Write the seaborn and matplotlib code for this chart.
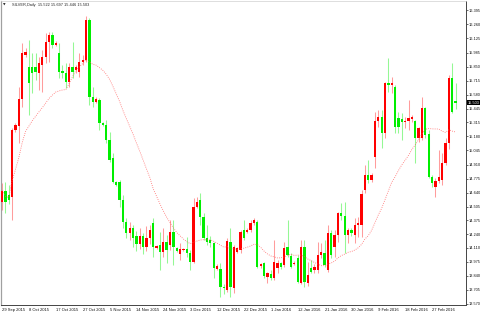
import numpy as np
import pandas as pd
import matplotlib
matplotlib.use('Agg')
import matplotlib.pyplot as plt
import matplotlib.transforms as mtransforms
import seaborn as sns

# ---------------- data ----------------
symbol_title = "SILVER,Daily  15.522 15.697 15.446 15.503"
last_price = 15.503

date_labels = ["29 Sep 2015", "8 Oct 2015", "17 Oct 2015", "27 Oct 2015", "5 Nov 2015",
               "14 Nov 2015", "24 Nov 2015", "3 Dec 2015", "12 Dec 2015", "22 Dec 2015",
               "1 Jan 2016", "12 Jan 2016", "21 Jan 2016", "30 Jan 2016", "9 Feb 2016",
               "18 Feb 2016", "27 Feb 2016"]

price_ticks = [16.395, 16.260, 16.125, 15.985, 15.850, 15.715, 15.580, 15.445, 15.315,
               15.180, 15.045, 14.910, 14.775, 14.640, 14.505, 14.375, 14.240, 14.110,
               13.975, 13.840, 13.705, 13.570]

opens = [14.55, 14.66, 14.62, 14.60, 15.24, 15.28, 15.54, 15.96, 15.847, 15.847,
         15.85, 15.79, 15.867, 15.943, 16.087, 16.155, 16.059, 15.982, 15.81, 15.79,
         15.703, 15.847, 15.82, 15.80, 15.895, 15.915, 16.30, 15.559, 15.51, 15.53,
         15.31, 15.29, 15.146, 14.973, 14.742, 14.742, 14.569, 14.36, 14.25, 14.30,
         14.22, 14.15, 14.22, 14.12, 14.20, 14.345, 14.11, 14.137, 14.072, 14.168,
         14.137, 14.265, 14.11, 14.05, 14.09, 14.10, 14.057, 13.976, 14.505, 14.569,
         14.409, 14.201, 14.18, 14.153, 13.909, 13.903, 13.736, 13.704, 14.168, 13.72,
         14.072, 14.089, 14.28, 14.265, 14.28, 14.345, 14.36, 13.93, 13.966, 13.83,
         13.858, 13.817, 13.913, 13.961, 13.944, 14.12, 14.03, 13.955, 14.009, 13.771,
         14.12, 13.771, 13.913, 13.897, 13.897, 14.04, 14.057, 13.897, 14.249, 14.12,
         14.233, 14.441, 14.418, 14.233, 14.28, 14.233, 14.329, 14.329, 14.665, 14.809,
         14.761, 14.985, 15.331, 15.37, 15.21, 15.696, 15.67, 15.658, 15.354, 15.347,
         15.316, 15.328, 15.347, 15.331, 15.162, 15.162, 15.45, 15.204, 14.793, 14.697,
         14.752, 14.761, 14.922, 15.12, 15.742, 15.522]
highs = [14.73, 14.74, 14.71, 15.26, 15.31, 15.655, 16.078, 16.03, 16.107, 15.98,
         15.98, 15.943, 16.01, 16.174, 16.184, 16.184, 16.097, 16.078, 15.87, 15.886,
         15.886, 16.087, 15.87, 15.98, 15.96, 16.337, 16.318, 15.655, 15.56, 15.55,
         15.32, 15.338, 15.22, 15.02, 14.75, 14.76, 14.617, 14.40, 14.36, 14.33,
         14.27, 14.30, 14.25, 14.32, 14.33, 14.393, 14.14, 14.265, 14.297, 14.23,
         14.377, 14.377, 14.12, 14.153, 14.11, 14.216, 14.089, 14.585, 14.601, 14.633,
         14.441, 14.329, 14.22, 14.168, 13.95, 13.961, 13.76, 14.201, 14.297, 14.137,
         14.12, 14.28, 14.377, 14.30, 14.377, 14.393, 14.377, 13.96, 13.976, 13.88,
         13.897, 14.185, 13.993, 13.97, 14.168, 14.377, 14.057, 13.98, 14.04, 14.185,
         14.185, 13.97, 13.993, 13.95, 14.168, 14.153, 14.185, 14.329, 14.28, 14.28,
         14.457, 14.537, 14.553, 14.297, 14.30, 14.393, 14.409, 14.665, 14.905, 14.954,
         14.825, 15.418, 15.434, 15.434, 15.706, 15.931, 15.754, 15.674, 15.418, 15.402,
         15.37, 15.53, 15.386, 15.338, 15.274, 15.562, 15.466, 15.242, 14.809, 14.777,
         15.05, 15.018, 15.162, 15.77, 15.886, 15.697]
lows = [14.47, 14.44, 14.53, 14.38, 15.22, 15.117, 15.463, 15.94, 15.386, 15.597,
        15.72, 15.626, 15.607, 15.886, 15.895, 16.03, 16.05, 15.742, 15.74, 15.645,
        15.655, 15.742, 15.79, 15.75, 15.87, 15.895, 15.482, 15.463, 15.50, 15.242,
        15.28, 15.117, 14.935, 14.73, 14.70, 14.502, 14.30, 14.20, 14.18, 14.12,
        14.08, 14.10, 14.05, 14.08, 14.15, 14.024, 14.10, 13.897, 14.024, 13.961,
        14.089, 13.944, 14.07, 13.993, 14.08, 14.024, 13.897, 13.961, 14.49, 14.329,
        14.185, 14.137, 14.12, 13.817, 13.90, 13.64, 13.67, 13.688, 13.64, 13.672,
        14.06, 14.057, 14.185, 14.25, 14.265, 14.329, 13.92, 13.92, 13.817, 13.77,
        13.80, 13.80, 13.865, 13.91, 13.928, 14.024, 13.913, 13.94, 13.768, 13.76,
        13.736, 13.743, 13.865, 13.865, 13.865, 14.009, 13.928, 13.88, 14.009, 14.024,
        14.168, 14.377, 14.057, 14.153, 14.22, 14.153, 14.216, 14.216, 14.633, 14.729,
        14.745, 14.874, 15.274, 15.066, 15.162, 15.61, 15.594, 15.21, 15.21, 15.146,
        15.258, 15.242, 15.322, 14.922, 15.13, 15.15, 15.162, 14.777, 14.697, 14.601,
        14.729, 14.713, 14.905, 15.06, 15.405, 15.446]
closes = [14.66, 14.55, 14.57, 15.24, 15.29, 15.54, 15.982, 15.99, 15.693, 15.79,
          15.80, 15.886, 15.943, 16.087, 16.155, 16.059, 16.078, 15.80, 15.79, 15.703,
          15.847, 15.80, 15.85, 15.895, 15.915, 16.299, 15.559, 15.51, 15.54, 15.309,
          15.29, 15.146, 14.954, 14.742, 14.713, 14.569, 14.358, 14.25, 14.30, 14.20,
          14.15, 14.22, 14.12, 14.20, 14.28, 14.12, 14.125, 14.072, 14.168, 14.089,
          14.265, 14.12, 14.082, 14.095, 14.10, 14.057, 13.976, 14.499, 14.553, 14.409,
          14.201, 14.168, 14.153, 13.913, 13.935, 13.736, 13.72, 14.178, 13.736, 14.12,
          14.105, 14.265, 14.201, 14.28, 14.345, 14.377, 13.928, 13.95, 13.839, 13.865,
          13.817, 13.976, 13.961, 13.928, 14.11, 14.04, 13.928, 13.966, 13.784, 14.12,
          13.784, 13.848, 13.88, 13.922, 14.04, 14.072, 13.944, 14.249, 14.04, 14.233,
          14.441, 14.418, 14.233, 14.28, 14.255, 14.329, 14.345, 14.627, 14.809, 14.761,
          14.809, 15.331, 15.37, 15.21, 15.69, 15.674, 15.696, 15.274, 15.274, 15.322,
          15.331, 15.354, 15.37, 15.162, 15.258, 15.45, 15.194, 14.793, 14.729, 14.755,
          14.787, 14.922, 15.12, 15.742, 15.415, 15.503]
ma_period = 20

# ---------------- build frame ----------------
df = pd.DataFrame({"bar": np.arange(len(opens)), "open": opens, "high": highs,
                   "low": lows, "close": closes})
df["ma"] = df["close"].rolling(ma_period, min_periods=1).mean()
up = df["close"] >= df["open"]

sns.set_style("white")
plt.rcParams["font.family"] = ["Liberation Sans", "DejaVu Sans"]

W, H = 480, 314
fig = plt.figure(figsize=(W / 100, H / 100), dpi=100)
fig.patch.set_facecolor("white")
ax = fig.add_axes([1 / W, 9 / H, 465 / W, 304 / H])
ax.set_facecolor("white")

# wicks
wick_cols = np.where(up, "#ff9c9c", "#94f894")
ax.vlines(df["bar"], df["low"], df["high"], colors=wick_cols, lw=0.75, zorder=2)
# bodies
body_cols = np.where(up, "#ff0000", "#00ee00")
bottom = np.minimum(df["open"], df["close"])
height = np.maximum((df["close"] - df["open"]).abs(), 0.007)
ax.bar(df["bar"], height, bottom=bottom, width=0.68, color=body_cols,
       linewidth=0, zorder=3)

# moving average (dotted red)
sns.lineplot(data=df, x="bar", y="ma", ax=ax, color="#ff5050", lw=0.6,
             linestyle=(0, (1, 1.6)), zorder=4, alpha=0.85)
ax.set_xlabel("")
ax.set_ylabel("")

ax.set_xlim(-0.3, 138.1)
ax.set_ylim(13.560, 16.4815)

# axes styling
ax.yaxis.tick_right()
ax.set_yticks(price_ticks)
ax.set_yticklabels([f"{v:.3f}" for v in price_ticks])
ax.set_xticks(np.arange(0, 8 * len(date_labels), 8))
ax.set_xticklabels(date_labels, ha="left")
ax.tick_params(axis="y", direction="out", length=1.3, width=0.5, pad=0.4,
               labelsize=2.75, colors="#333333", labelcolor="#111111")
ax.tick_params(axis="x", direction="out", length=1.5, width=0.5, pad=0.9,
               labelsize=3.0, colors="#333333", labelcolor="#111111")
for s in ["right", "bottom"]:
    ax.spines[s].set_color("#444444")
    ax.spines[s].set_linewidth(0.7)
ax.spines["left"].set_color("#a0a0a0")
ax.spines["left"].set_linewidth(0.9)
ax.spines["top"].set_color("#d0d0d0")
ax.spines["top"].set_linewidth(0.5)
ax.grid(False)

# title with symbol / OHLC
fig.text(3.2 / W, 1 - 4.8 / H, "\u25bc", fontsize=2.4, color="#222222",
         family=["DejaVu Sans"], va="center", ha="left")
fig.text(11.7 / W, 1 - 4.8 / H, symbol_title, fontsize=2.8, color="#222222",
         va="center", ha="left")

# current price box on the right axis
trans = mtransforms.blended_transform_factory(ax.transAxes, ax.transData)
ax.text(1.003, last_price, f"{last_price:.3f}", transform=trans, color="white",
        fontsize=2.75, va="center", ha="left", clip_on=False, zorder=6,
        bbox=dict(boxstyle="square,pad=0.12", fc="black", ec="black", lw=0))

fig.savefig("out.png", dpi=100)
